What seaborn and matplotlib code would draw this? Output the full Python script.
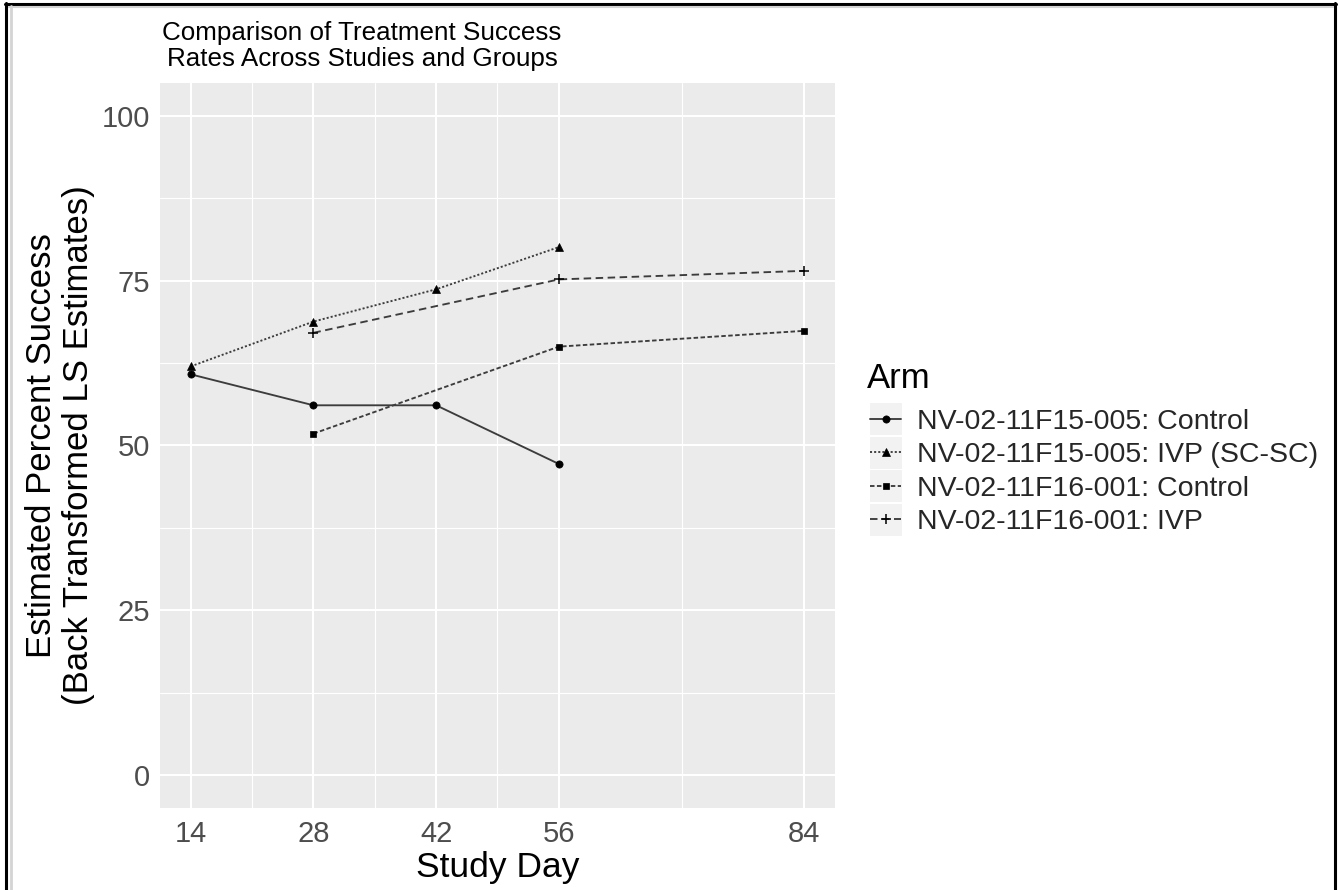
import matplotlib
matplotlib.use("Agg")
import matplotlib.pyplot as plt
import seaborn as sns
import pandas as pd
from matplotlib.lines import Line2D
from matplotlib.patches import Rectangle
from matplotlib.ticker import FixedLocator

# ---------------- data ----------------
arms = [
    "NV-02-11F15-005: Control",
    "NV-02-11F15-005: IVP (SC-SC)",
    "NV-02-11F16-001: Control",
    "NV-02-11F16-001: IVP",
]
days_15005 = [14, 28, 42, 56]
control_15005 = [60.8, 56.1, 56.1, 47.2]
ivp_15005 = [62.0, 68.8, 73.7, 80.1]
days_16001 = [28, 56, 84]
control_16001 = [51.8, 65.0, 67.4]
ivp_16001 = [67.1, 75.2, 76.5]

x_ticks = [14, 28, 42, 56, 84]
x_minor = [21, 35, 49, 70]
y_ticks = [0, 25, 50, 75, 100]
y_minor = [12.5, 37.5, 62.5, 87.5]

title = "Comparison of Treatment Success\nRates Across Studies and Groups"
x_label = "Study Day"
y_label = "Estimated Percent Success\n(Back Transformed LS Estimates)"
legend_title = "Arm"

series_days = [days_15005, days_15005, days_16001, days_16001]
series_vals = [control_15005, ivp_15005, control_16001, ivp_16001]
rows = []
for arm, ds, vs in zip(arms, series_days, series_vals):
    for d, v in zip(ds, vs):
        rows.append({"Study Day": d, "Pct": v, "Arm": arm})
df = pd.DataFrame(rows)

# ---------------- style ----------------
sns.set_theme(style="darkgrid", rc={
    "axes.facecolor": "#EBEBEB",
    "grid.color": "white",
    "axes.edgecolor": "none",
})
plt.rcParams["font.family"] = ["Liberation Sans", "DejaVu Sans"]

markers = ["o", "^", "s", "+"]
msizes = [5.2, 6.2, 5.0, 7.2]
lstyles = ["-", (0, (1.1, 1.1)), (0, (2.4, 1.3)), (0, (4.0, 2.4))]
line_col = "#3c3c3c"
lw = 1.35

W, H = 1339, 890
fig = plt.figure(figsize=(W / 100, H / 100), dpi=100)
ax = fig.add_axes([160 / W, 1 - 808 / H, (835 - 160) / W, (808 - 83) / H])

for arm, m, ms, ls in zip(arms, markers, msizes, lstyles):
    sub = df[df["Arm"] == arm]
    sns.lineplot(data=sub, x="Study Day", y="Pct", ax=ax, color=line_col,
                 linewidth=lw, linestyle=ls, marker=m, markersize=ms,
                 markerfacecolor="black", markeredgecolor="black",
                 markeredgewidth=1.1 if m == "+" else 0.5,
                 errorbar=None, legend=False)

ax.set_xlim(10.5, 87.5)
ax.set_ylim(-5, 105)
ax.xaxis.set_major_locator(FixedLocator(x_ticks))
ax.xaxis.set_minor_locator(FixedLocator(x_minor))
ax.yaxis.set_major_locator(FixedLocator(y_ticks))
ax.yaxis.set_minor_locator(FixedLocator(y_minor))
ax.set_xticklabels([str(t) for t in x_ticks])
ax.set_yticklabels([str(t) for t in y_ticks])
ax.grid(which="major", color="white", linewidth=1.5)
ax.grid(which="minor", color="white", linewidth=0.8)
ax.set_axisbelow(True)
for s in ax.spines.values():
    s.set_visible(False)
ax.tick_params(axis="both", which="major", length=5, width=1.1, color="#333333",
               labelsize=21, labelcolor="#4D4D4D")
ax.tick_params(axis="x", which="major", pad=4)
ax.tick_params(axis="y", which="major", pad=2)
ax.tick_params(axis="both", which="minor", length=0)

ax.set_xlabel(x_label, fontsize=25.5, color="black")
ax.xaxis.set_label_coords(0.5, -(851 - 808) / 725)
ax.set_ylabel(y_label, fontsize=25, color="black", linespacing=1.15)
ax.yaxis.set_label_coords((95 - 160) / 675, 0.5)

fig.text(362 / W, 1 - 46 / H, title, ha="center", va="center", fontsize=18.7,
         linespacing=1.15, color="black")

# ---------------- legend ----------------
fig.text(867 / W, 1 - 388 / H, legend_title, ha="left", va="baseline",
         fontsize=25, color="black")
handles = [Line2D([], [], color=line_col, linewidth=lw, linestyle=ls, marker=m,
                  markersize=ms, markerfacecolor="black", markeredgecolor="black",
                  markeredgewidth=1.1 if m == "+" else 0.5)
           for m, ms, ls in zip(markers, msizes, lstyles)]
leg = fig.legend(handles, arms, loc="center left",
                 bbox_to_anchor=(870 / W, 1 - 472 / H), frameon=False,
                 fontsize=20.5, handlelength=1.1, handletextpad=0.55,
                 labelspacing=0.26, borderpad=0, borderaxespad=0)
leg.set_zorder(5)

fig.canvas.draw()
r = fig.canvas.get_renderer()
for h in leg.legend_handles:
    hb = h.get_window_extent(r)
    cx = (hb.x0 + hb.x1) / 2
    cy = (hb.y0 + hb.y1) / 2
    fig.add_artist(Rectangle(((cx - 16.5) / W, (cy - 16.5) / H), 33 / W, 33 / H,
                             transform=fig.transFigure, facecolor="#F2F2F2",
                             edgecolor="white", linewidth=0.8, zorder=4))

# ---------------- screenshot frame ----------------
fig.add_artist(Line2D([5 / W, 1336 / W], [1 - 3.5 / H, 1 - 3.5 / H], color="black",
                      linewidth=2.2, transform=fig.transFigure))
fig.add_artist(Line2D([9 / W, 1333 / W], [1 - 6.5 / H, 1 - 6.5 / H], color="#d4d4d4",
                      linewidth=1.5, transform=fig.transFigure))
fig.add_artist(Line2D([6.5 / W, 6.5 / W], [0, 1 - 2.5 / H], color="black",
                      linewidth=2.2, transform=fig.transFigure))
fig.add_artist(Line2D([10.5 / W, 10.5 / W], [0, 1 - 6 / H], color="#d4d4d4",
                      linewidth=2.0, transform=fig.transFigure))
fig.add_artist(Line2D([1334.5 / W, 1334.5 / W], [0, 1 - 2.5 / H], color="black",
                      linewidth=2.2, transform=fig.transFigure))

fig.savefig("out.png", dpi=100, facecolor="white")
